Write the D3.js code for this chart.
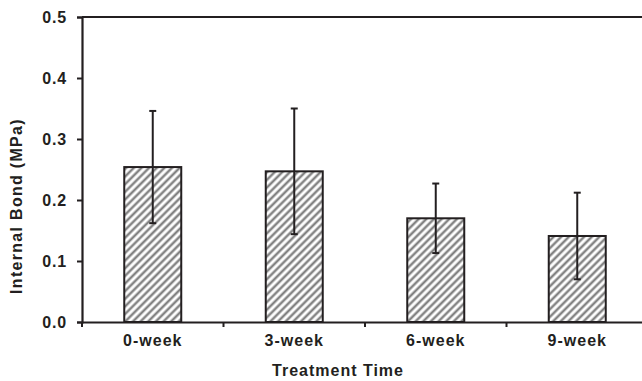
<!DOCTYPE html>
<html>
<head>
<meta charset="utf-8">
<script src="https://cdn.jsdelivr.net/npm/d3@7"></script>
<style>
  html, body { margin: 0; padding: 0; background: #fff; }
  svg { display: block; }
  text { font-family: "Liberation Sans", Arial, sans-serif; font-weight: bold; fill: #231f20; }
</style>
</head>
<body>
<svg id="chart" width="642" height="381"></svg>
<script>
const categories = ["0-week", "3-week", "6-week", "9-week"];
const means = [0.254, 0.247, 0.170, 0.141];
const errors = [0.092, 0.103, 0.057, 0.071];
const yTicks = [0.0, 0.1, 0.2, 0.3, 0.4, 0.5];

const svg = d3.select("#chart");
const margin = { left: 82, top: 17, right: 648, bottom: 322 };
const ink = "#231f20";

const x = d3.scaleBand().domain(categories).range([margin.left, margin.right]).padding(0);
const y = d3.scaleLinear().domain([0, 0.5]).range([margin.bottom, margin.top]);

const P = 5.4;
const defs = svg.append("defs");
const pat = defs.append("pattern")
  .attr("id", "hatch").attr("patternUnits", "userSpaceOnUse")
  .attr("width", P).attr("height", P)
  .attr("patternTransform", "rotate(45)");
pat.append("rect").attr("width", P).attr("height", P).attr("fill", "#fff");
pat.append("line").attr("x1", P / 2).attr("y1", 0).attr("x2", P / 2).attr("y2", P)
  .attr("stroke", "#838383").attr("stroke-width", 2.5);

const barW = 57;

// bars
svg.append("g").selectAll("rect").data(categories).join("rect")
  .attr("x", d => x(d) + x.bandwidth() / 2 - barW / 2)
  .attr("y", (d, i) => y(means[i]))
  .attr("width", barW)
  .attr("height", (d, i) => y(0) - y(means[i]))
  .attr("fill", "url(#hatch)")
  .attr("stroke", ink).attr("stroke-width", 2);

// error bars
const eg = svg.append("g").attr("stroke", ink).attr("stroke-width", 2);
categories.forEach((c, i) => {
  const cx = x(c) + x.bandwidth() / 2;
  eg.append("line").attr("x1", cx).attr("x2", cx)
    .attr("y1", y(means[i] + errors[i])).attr("y2", y(means[i] - errors[i]));
  [means[i] + errors[i], means[i] - errors[i]].forEach(v => {
    eg.append("line").attr("x1", cx - 3.5).attr("x2", cx + 3.5)
      .attr("y1", y(v)).attr("y2", y(v));
  });
});

// frame top
svg.append("line").attr("x1", margin.left).attr("x2", margin.right)
  .attr("y1", margin.top).attr("y2", margin.top).attr("stroke", ink).attr("stroke-width", 2);

// y axis
const yAxis = d3.axisLeft(y).tickValues(yTicks).tickFormat(d3.format(".1f")).tickSize(5).tickPadding(10);
const yg = svg.append("g").attr("transform", `translate(${margin.left},0)`).call(yAxis);
yg.select(".domain").attr("stroke", ink).attr("stroke-width", 2.2);
yg.selectAll(".tick line").attr("stroke", ink).attr("stroke-width", 2);
yg.selectAll(".tick text").style("font-size", "16px").style("letter-spacing", "0.8px").attr("fill", ink);

// x axis
const xAxis = d3.axisBottom(x).tickSize(0).tickPadding(13);
const xg = svg.append("g").attr("transform", `translate(0,${margin.bottom})`).call(xAxis);
xg.select(".domain").attr("stroke", ink).attr("stroke-width", 2.2);
xg.selectAll(".tick text").style("font-size", "16px").style("letter-spacing", "1px").attr("fill", ink);
xg.append("g").selectAll("line").data(categories).join("line")
  .attr("x1", d => x(d)).attr("x2", d => x(d))
  .attr("y1", 0).attr("y2", 5).attr("stroke", ink).attr("stroke-width", 2);

// axis titles
svg.append("text").attr("x", 338).attr("y", 376).attr("text-anchor", "middle")
  .style("font-size", "16px").style("letter-spacing", "1px").text("Treatment Time");
svg.append("text").attr("transform", "translate(22,206) rotate(-90)").attr("text-anchor", "middle")
  .style("font-size", "16px").style("letter-spacing", "1.3px").text("Internal Bond (MPa)");
</script>
</body>
</html>
